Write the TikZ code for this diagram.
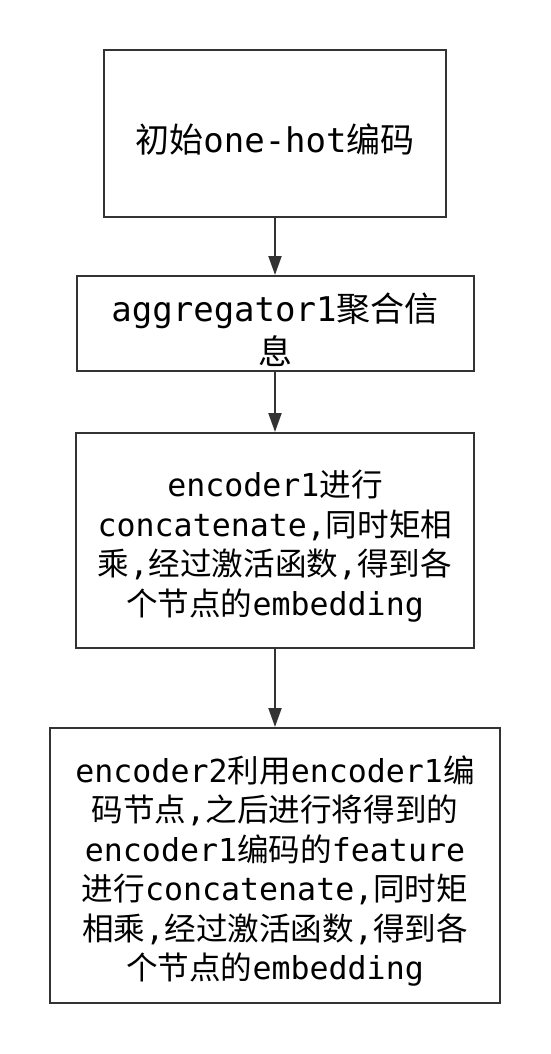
\documentclass[tikz,border=0pt]{standalone}
\usepackage{fontspec}
\setmainfont{DejaVu Sans Mono}
\newfontfamily\cjk{Noto Sans CJK SC}
\usetikzlibrary{arrows.meta}
\newcommand{\zh}[1]{{\cjk #1}}
\definecolor{linec}{HTML}{333333}
\begin{document}
\begin{tikzpicture}[x=1pt,y=-1pt,
  box/.style={draw=linec, line width=2pt, inner sep=0pt},
  bigtxt/.style={align=center, inner sep=0pt, text=black, yshift=-6pt, font=\fontsize{34}{42.5}\selectfont},
  smalltxt/.style={align=center, inner sep=0pt, text=black, yshift=-5.5pt, font=\fontsize{31.6}{39.5}\selectfont},
  flow/.style={draw=linec, line width=2pt, -{Triangle[width=13pt,length=19pt]}}]
\useasboundingbox (0,0) rectangle (550,1054);
\fill[white] (0,0) rectangle (550,1054);

\node[box, minimum width=342pt, minimum height=167pt,
  label={[bigtxt]center:{\zh{初始}one-hot\zh{编码}}}] (b1) at (275,133.5) {};
\node[box, minimum width=397pt, minimum height=95pt,
  label={[bigtxt]center:{aggregator1\zh{聚合信}\\\zh{息}}}] (b2) at (275,323.5) {};
\node[box, minimum width=398pt, minimum height=215pt,
  label={[smalltxt]center:{encoder1\zh{进行}\\concatenate,\zh{同时矩相}\\\zh{乘},\zh{经过激活函数},\zh{得到各}\\\zh{个节点的}embedding}}] (b3) at (275,540.5) {};
\node[box, minimum width=450pt, minimum height=275pt,
  label={[smalltxt]center:{encoder2\zh{利用}encoder1\zh{编}\\\zh{码节点},\zh{之后进行将得到的}\\encoder1\zh{编码的}feature\\\zh{进行}concatenate,\zh{同时矩}\\\zh{相乘},\zh{经过激活函数},\zh{得到各}\\\zh{个节点的}embedding}}] (b4) at (275,865.5) {};

\draw[flow] (b1.south) -- (b2.north);
\draw[flow] (b2.south) -- (b3.north);
\draw[flow] (b3.south) -- (b4.north);
\end{tikzpicture}
\end{document}
